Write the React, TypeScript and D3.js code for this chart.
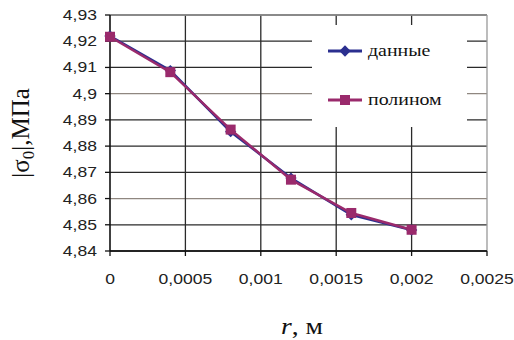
import React from 'react';
import * as d3 from 'd3';

// r, m
const radii = [0, 0.0004, 0.0008, 0.0012, 0.0016, 0.002];
// |sigma0|, MPa
const dataValues = [4.922, 4.9088, 4.8855, 4.8678, 4.8538, 4.848];
const polyValues = [4.9217, 4.9082, 4.8863, 4.8672, 4.8545, 4.8481];

const xTicks = [0, 0.0005, 0.001, 0.0015, 0.002, 0.0025];
const yTicks = [4.84, 4.85, 4.86, 4.87, 4.88, 4.89, 4.9, 4.91, 4.92, 4.93];
const legendNames = ['данные', 'полином'];

const W = 514;
const H = 340;
const SX = 1.17; // the source picture is stretched horizontally

const x = d3.scaleLinear().domain([0, 0.0025]).range([110, 487]);
const y = d3.scaleLinear().domain([4.84, 4.93]).range([251, 15]);

const fmt = (v: number) => String(+v.toFixed(4)).replace('.', ',');

const line = d3.line<[number, number]>()
    .x(d => x(d[0]))
    .y(d => y(d[1]));

const blue = '#2b2f8f';
const magenta = '#9a2a6c';
const sans = "'Liberation Sans', Arial, sans-serif";
const serif = "'Liberation Serif', 'Times New Roman', serif";

export default function App() {
    const dataPts = radii.map((r, i) => [r, dataValues[i]] as [number, number]);
    const polyPts = radii.map((r, i) => [r, polyValues[i]] as [number, number]);
    const x0 = x.range()[0];
    const x1 = x.range()[1];
    const yTop = y.range()[1];
    const yBot = y.range()[0];

    // legend box hides the grid behind it
    const legend = { x: 312, y: 25, w: 155, h: 102 };

    return (
        <svg width={W} height={H} style={{ position: 'absolute', left: 0, top: 0, background: '#fff' }}>
            {/* horizontal grid */}
            {yTicks.map(t => (
                <line key={'h' + t} x1={x0} x2={x1} y1={y(t)} y2={y(t)}
                    stroke={t === 4.9 || t === 4.86 ? '#8f8780' : '#2a2a2a'} strokeWidth={1.3} />
            ))}
            {/* vertical grid */}
            {xTicks.slice(1, -1).map(t => (
                <line key={'v' + t} x1={x(t)} x2={x(t)} y1={yTop} y2={yBot}
                    stroke="#2a2a2a" strokeWidth={1.3} />
            ))}
            {/* plot frame */}
            <line x1={x0} x2={x1} y1={yTop} y2={yTop} stroke="#999" strokeWidth={1.3} />
            <line x1={x1} x2={x1} y1={yTop} y2={yBot} stroke="#999" strokeWidth={1.3} />
            <line x1={x0} x2={x0} y1={yTop} y2={yBot} stroke="#111" strokeWidth={1.6} />
            <line x1={x0} x2={x1} y1={yBot} y2={yBot} stroke="#111" strokeWidth={1.6} />

            {/* ticks */}
            {yTicks.map(t => (
                <line key={'yt' + t} x1={x0 - 5} x2={x0} y1={y(t)} y2={y(t)} stroke="#111" strokeWidth={1.3} />
            ))}
            {xTicks.map(t => (
                <line key={'xt' + t} x1={x(t)} x2={x(t)} y1={yBot} y2={yBot + 5} stroke="#111" strokeWidth={1.3} />
            ))}

            {/* tick labels */}
            {yTicks.map(t => (
                <text key={'yl' + t} transform={`translate(97,${y(t) + 5}) scale(${SX},1)`}
                    textAnchor="end" fontFamily={sans} fontSize={15} fill="#222">
                    {fmt(t)}
                </text>
            ))}
            {xTicks.map(t => (
                <text key={'xl' + t} transform={`translate(${x(t)},${284}) scale(${SX},1)`}
                    textAnchor="middle" fontFamily={sans} fontSize={15} fill="#222">
                    {fmt(t)}
                </text>
            ))}

            {/* legend box */}
            <rect x={legend.x} y={legend.y} width={legend.w} height={legend.h} fill="#fff" />

            {/* series */}
            <path d={line(dataPts) ?? ''} fill="none" stroke={blue} strokeWidth={2.5} />
            {dataPts.map((p, i) => (
                <rect key={'d' + i} x={-4} y={-4} width={8} height={8} fill={blue}
                    transform={`translate(${x(p[0])},${y(p[1])}) rotate(45)`} />
            ))}
            <path d={line(polyPts) ?? ''} fill="none" stroke={magenta} strokeWidth={2.5} />
            {polyPts.map((p, i) => (
                <rect key={'p' + i} x={x(p[0]) - 5} y={y(p[1]) - 5} width={10} height={10} fill={magenta} />
            ))}

            {/* legend entries */}
            {legendNames.map((name, i) => {
                const ly = 51 + i * 49;
                const c = i === 0 ? blue : magenta;
                return (
                    <g key={name}>
                        <line x1={328} x2={362} y1={ly} y2={ly} stroke={c} strokeWidth={3} />
                        {i === 0
                            ? <rect x={-4} y={-4} width={8} height={8} fill={c} transform={`translate(345,${ly}) rotate(45)`} />
                            : <rect x={340} y={ly - 5} width={10} height={10} fill={c} />}
                        <text transform={`translate(368,${ly + 5}) scale(${SX},1)`}
                            fontFamily={serif} fontSize={17} fill="#111">
                            {name}
                        </text>
                    </g>
                );
            })}

            {/* axis titles */}
            <text transform={`translate(29,133) rotate(-90)`} textAnchor="middle"
                fontFamily={serif} fontSize={25} fill="#111">
                |σ<tspan fontSize={17} dy={5}>0</tspan><tspan dy={-5}>|,МПа</tspan>
            </text>
            <text transform={`translate(302,334) scale(1.15,1)`} textAnchor="middle"
                fontFamily={serif} fontSize={24} fill="#111">
                <tspan fontStyle="italic">r</tspan>, м
            </text>
        </svg>
    );
}
